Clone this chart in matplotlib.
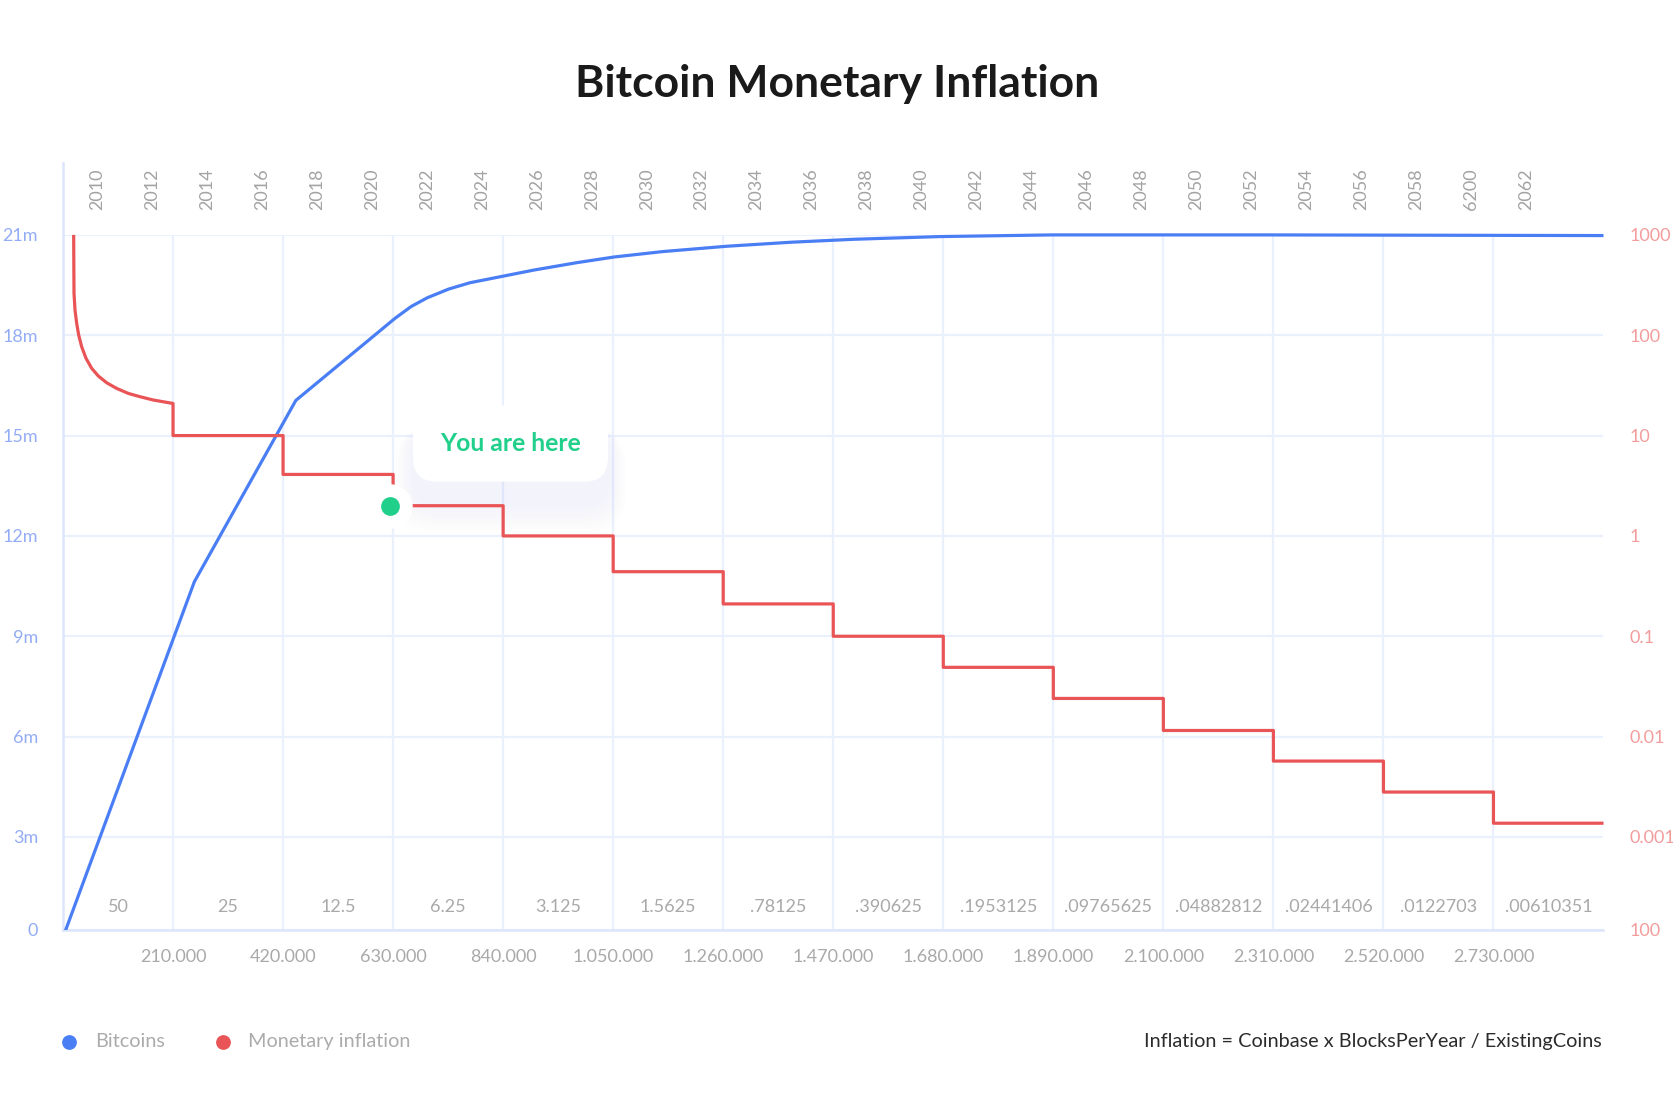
import matplotlib
matplotlib.use('Agg')
import matplotlib.pyplot as plt
import matplotlib.transforms as mtransforms
from matplotlib.patches import FancyBboxPatch
from matplotlib.lines import Line2D
from matplotlib.ticker import FixedLocator, FixedFormatter, NullLocator

plt.rcParams['font.family'] = ['Lato', 'DejaVu Sans']

# ---------------- data ----------------
title = "Bitcoin Monetary Inflation"
halving_interval = 210000
max_block = 2940000

# Bitcoin supply (millions) vs block height
supply_blocks = [0, 250700, 444300, 634000, 664600, 695200, 736000, 776700,
                 838000, 899100, 980700, 1052100, 1143800, 1266200, 1388500,
                 1510700, 1673900, 1888000, 2300000, 2940000]
supply_millions = [0, 10.63, 16.05, 18.51, 18.86, 19.12, 19.38, 19.57,
                   19.76, 19.95, 20.17, 20.34, 20.50, 20.66, 20.78,
                   20.87, 20.95, 21.0, 21.0, 20.98]

# Monetary inflation: first era curve, then one flat level per later era
era1_blocks = [20370, 20690, 21010, 22920, 26100, 29920, 35650, 43920, 54750,
               67470, 83400, 102500, 124800, 147000, 172500, 210000]
era1_inflation = [1000, 482, 262, 178, 131.5, 100.5, 76.8, 58.9, 46.8,
                  39.2, 33.6, 29.5, 26.3, 24.4, 22.6, 20.9]
era_inflation = [10.0, 4.1, 2.0, 1.0, 0.44, 0.21, 0.10, 0.049, 0.024,
                 0.0115, 0.0057, 0.0028, 0.00137]

current_block = 625000
current_inflation = 2.0

block_rewards = ['50', '25', '12.5', '6.25', '3.125', '1.5625', '.78125',
                 '.390625', '.1953125', '.09765625', '.04882812', '.02441406',
                 '.0122703', '.00610351']
block_tick_values = [210000, 420000, 630000, 840000, 1050000, 1260000, 1470000,
                     1680000, 1890000, 2100000, 2310000, 2520000, 2730000]
block_tick_labels = ['210.000', '420.000', '630.000', '840.000', '1.050.000',
                     '1.260.000', '1.470.000', '1.680.000', '1.890.000',
                     '2.100.000', '2.310.000', '2.520.000', '2.730.000']
year_labels = ['2010', '2012', '2014', '2016', '2018', '2020', '2022', '2024',
               '2026', '2028', '2030', '2032', '2034', '2036', '2038', '2040',
               '2042', '2044', '2046', '2048', '2050', '2052', '2054', '2056',
               '2058', '6200', '2062']
first_year_block = 65500
blocks_per_two_years = 104850

supply_ticks = [3, 6, 9, 12, 15, 18, 21]
supply_tick_labels = ['3m', '6m', '9m', '12m', '15m', '18m', '21m']
inflation_ticks = [0.001, 0.01, 0.1, 1, 10, 100, 1000]
inflation_tick_labels = ['0.001', '0.01', '0.1', '1', '10', '100', '1000']

# ---------------- style ----------------
BLUE = '#4a7ef5'
RED = '#e95457'
GREEN = '#1fcf8a'
GRID = '#ebf0fd'
SPINE = '#dce5fb'
LBLUE = '#93acf6'
LRED = '#f39c9c'
GREY = '#a9a9a9'
FS = 13

W, H = 1674, 1116
fig = plt.figure(figsize=(W / 100, H / 100), dpi=100)
fig.patch.set_facecolor('white')

top_px, bot_px, left_px, right_px = 234.9, 929.9, 63, 1603.5
ax = fig.add_axes([left_px / W, 1 - bot_px / H, (right_px - left_px) / W,
                   (bot_px - top_px) / H])
ax.set_facecolor('none')

supply_axis_min = 0.22  # bottom row of the original is slightly compressed
ax.set_xlim(0, max_block)
ax.set_ylim(supply_axis_min, 21)

ax2 = ax.twinx()
ax2.set_yscale('log')
infl_min = 10 ** (-3 - (3 - supply_axis_min) / 3)
ax2.set_ylim(infl_min, 1000)

# left axis ticks
ax.yaxis.set_major_locator(FixedLocator([supply_axis_min] + supply_ticks))
ax.yaxis.set_major_formatter(FixedFormatter(['0'] + supply_tick_labels))
ax.tick_params(axis='y', length=0, pad=18, labelcolor=LBLUE, labelsize=FS)

# right axis ticks
ax2.yaxis.set_major_locator(FixedLocator([infl_min] + inflation_ticks))
ax2.yaxis.set_major_formatter(FixedFormatter(['100'] + inflation_tick_labels))
ax2.yaxis.set_minor_locator(NullLocator())
ax2.tick_params(axis='y', which='both', length=0, pad=19, labelcolor=LRED, labelsize=FS)

# bottom x ticks
ax.xaxis.set_major_locator(FixedLocator(block_tick_values))
ax.xaxis.set_major_formatter(FixedFormatter(block_tick_labels))
ax.tick_params(axis='x', length=0, pad=14, labelcolor=GREY, labelsize=FS)

ax.grid(True, color=GRID, linewidth=1.6, zorder=0)
ax.set_axisbelow(True)
for s in ['top', 'right', 'left']:
    ax.spines[s].set_visible(False)
ax.spines['bottom'].set_color(SPINE)
ax.spines['bottom'].set_linewidth(1.8)
for s in ax2.spines.values():
    s.set_visible(False)
# tall left axis line (reaches up into the year row)
ax.add_line(Line2D([0, 0], [0, 1.104], transform=ax.transAxes, color=SPINE,
                   lw=1.8, clip_on=False, zorder=1))

# top year axis
year_positions = [first_year_block + i * blocks_per_two_years for i in range(len(year_labels))]
sec = ax.secondary_xaxis('top')
sec.set_xticks(year_positions)
sec.set_xticklabels(year_labels, rotation=90)
sec.tick_params(length=0, pad=18, labelcolor='#a3a3a3', labelsize=FS)
sec.spines['top'].set_visible(False)

# block reward labels
blend = mtransforms.blended_transform_factory(ax.transData, ax.transAxes)
for i, r in enumerate(block_rewards):
    ax.text((i + 0.5) * halving_interval, 0.0334, r, transform=blend,
            ha='center', va='center', fontsize=FS, color=GREY)

# series
blue_line, = ax.plot(supply_blocks, supply_millions, color=BLUE, lw=2.3, zorder=3,
                     solid_capstyle='butt')
clip_bb = mtransforms.TransformedBbox(mtransforms.Bbox([[-0.01, 0], [1.01, 1.02]]),
                                      ax.transAxes)
blue_line.set_clip_box(clip_bb)

red_x = list(era1_blocks)
red_y = list(era1_inflation)
for i, v in enumerate(era_inflation):
    start = (i + 1) * halving_interval
    end = min((i + 2) * halving_interval, max_block)
    red_x += [start, end]
    red_y += [v, v]
ax2.plot(red_x, red_y, color=RED, lw=2.3, zorder=3, clip_on=False,
         solid_joinstyle='round', solid_capstyle='butt')

# "You are here" marker
ax2.plot([current_block], [current_inflation], 'o', ms=32, mfc='white',
         mec='none', zorder=6, clip_on=False)
ax2.plot([current_block], [current_inflation], 'o', ms=13.5, mfc=GREEN,
         mec='none', zorder=7, clip_on=False)

# callout box with soft shadow (in inches)
bx0, bx1 = 4.13, 6.08
by0, by1 = (H - 481.7) / 100, (H - 405.5) / 100
for k in range(12, 0, -1):
    e = k * 0.025
    sh = FancyBboxPatch((bx0 - e * 0.6, by0 - 0.22 - e), (bx1 - bx0) + 1.2 * e,
                        (by1 - by0) + e,
                        boxstyle=f"round,pad=0,rounding_size={0.24 + e * 0.5}",
                        transform=fig.dpi_scale_trans, fc='#dfe6fb',
                        ec='none', alpha=0.028, zorder=1, clip_on=False)
    ax2.add_patch(sh)
box = FancyBboxPatch((bx0, by0), bx1 - bx0, by1 - by0,
                     boxstyle="round,pad=0,rounding_size=0.24",
                     transform=fig.dpi_scale_trans, fc='white', ec='none',
                     zorder=5, clip_on=False)
ax2.add_patch(box)
ax2.text((bx0 + bx1) / 2, (H - 443.5) / 100, 'You are here',
         transform=fig.dpi_scale_trans, ha='center', va='center',
         fontsize=17.8, fontweight='bold', color=GREEN, zorder=8)

# title
fig.text(0.5, 1 - 97 / H, title, ha='center', va='baseline', fontsize=32,
         fontweight='bold', color='#1a1a1a')

# legend
LFS = 14.3
ly = 1 - 1041.7 / H
fig.add_artist(Line2D([69.3 / W], [ly], marker='o', ms=9.6, color=BLUE,
                      linestyle='none', transform=fig.transFigure))
fig.text(95 / W, ly, 'Bitcoins', ha='left', va='center', fontsize=LFS, color='#ababab')
fig.add_artist(Line2D([222.7 / W], [ly], marker='o', ms=9.6, color=RED,
                      linestyle='none', transform=fig.transFigure))
fig.text(248.3 / W, ly, 'Monetary inflation', ha='left', va='center', fontsize=LFS,
         color='#ababab')
fig.text(1601.8 / W, ly, 'Inflation = Coinbase x BlocksPerYear / ExistingCoins',
         ha='right', va='center', fontsize=LFS, color='#2b2b2b')

fig.savefig('out.png', dpi=100, facecolor='white')
